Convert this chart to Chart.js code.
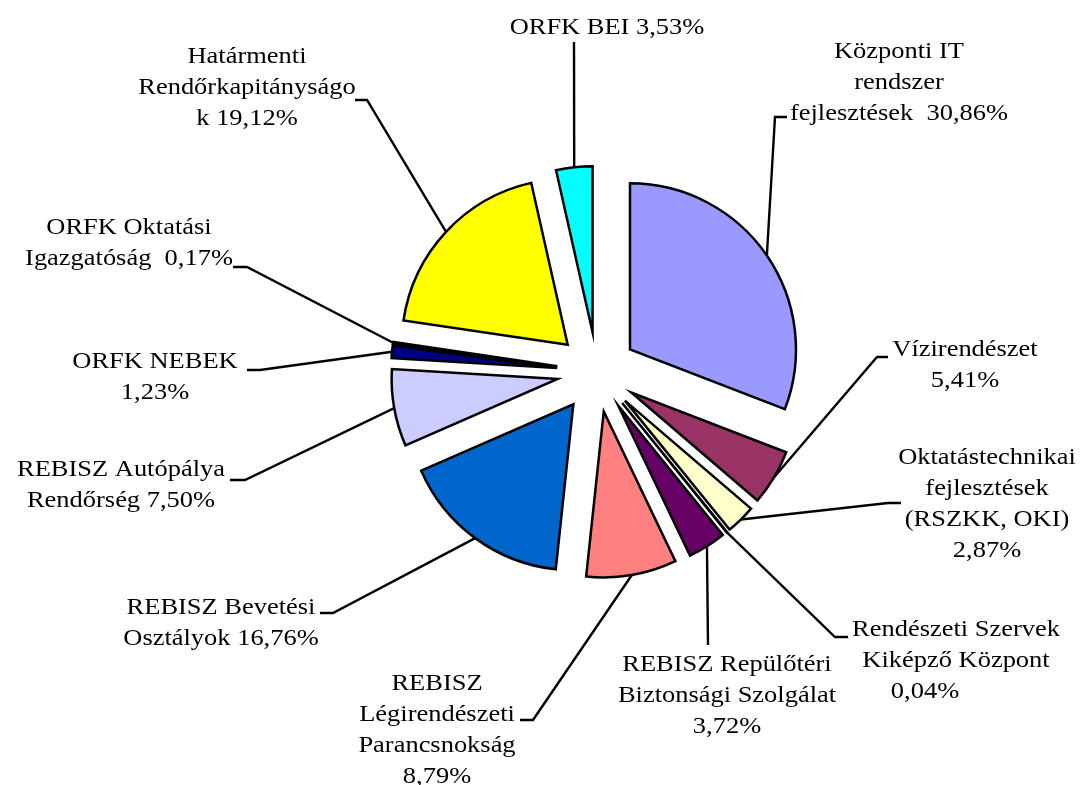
<!DOCTYPE html>
<html>
<head>
<meta charset="utf-8">
<script src="https://cdn.jsdelivr.net/npm/chart.js@4.4.1/dist/chart.umd.min.js"></script>
<style>
  html, body { margin: 0; padding: 0; background: #ffffff; }
  #wrap { width: 1084px; height: 785px; }
</style>
</head>
<body>
<div id="wrap"><canvas id="c" width="1084" height="785"></canvas></div>
<script>
// ---- data ----
const categories = [
  'Központi IT rendszer fejlesztések',
  'Vízirendészet',
  'Oktatástechnikai fejlesztések (RSZKK, OKI)',
  'Rendészeti Szervek Kiképző Központ',
  'REBISZ Repülőtéri Biztonsági Szolgálat',
  'REBISZ Légirendészeti Parancsnokság',
  'REBISZ Bevetési Osztályok',
  'REBISZ Autópálya Rendőrség',
  'ORFK NEBEK',
  'ORFK Oktatási Igazgatóság',
  'Határmenti Rendőrkapitányságok',
  'ORFK BEI'
];
const values = [30.86, 5.41, 2.87, 0.04, 3.72, 8.79, 16.76, 7.50, 1.23, 0.17, 19.12, 3.53];
// label text as wrapped in the picture ({p} = percentage)
const labelLines = [
  ['Központi IT', 'rendszer', 'fejlesztések  {p}'],
  ['Vízirendészet', '{p}'],
  ['Oktatástechnikai', 'fejlesztések', '(RSZKK, OKI)', '{p}'],
  ['Rendészeti Szervek', 'Kiképző Központ', '{p}'],
  ['REBISZ Repülőtéri', 'Biztonsági Szolgálat', '{p}'],
  ['REBISZ', 'Légirendészeti', 'Parancsnokság', '{p}'],
  ['REBISZ Bevetési', 'Osztályok {p}'],
  ['REBISZ Autópálya', 'Rendőrség {p}'],
  ['ORFK NEBEK', '{p}'],
  ['ORFK Oktatási', 'Igazgatóság  {p}'],
  ['Határmenti', 'Rendőrkapitányságo', 'k {p}'],
  ['ORFK BEI {p}']
];

// ---- styles / layout ----
const colors = ['#9999FF', '#993366', '#FFFFCC', '#CCFFFF', '#660066', '#FF8080',
                '#0066CC', '#CCCCFF', '#000080', '#FF00FF', '#FFFF00', '#00FFFF'];
const EXPLODE = 40;
const RADIUS = 166;
const FONT_PX = 23;
const TEXT_SCALE_X = 1.15;
const LINE_H = 31;
// label block: center x, first-line center y, optional per-line x shift
const labelPos = [
  {x: 899, y: 52},
  {x: 965, y: 350},
  {x: 987, y: 458},
  {x: 956, y: 630, dx: [0, 0, -31]},
  {x: 727, y: 665},
  {x: 437, y: 684},
  {x: 221, y: 608},
  {x: 121, y: 470},
  {x: 155, y: 362},
  {x: 129, y: 228},
  {x: 247, y: 57},
  {x: 607, y: 28}
];
// leader line points from the label side (slice anchor computed from the arc)
const leaderPts = [
  [[787, 117], [775, 117]],
  [[888, 357], [877, 357]],
  [[901, 503], [888, 503]],
  [[848, 637], [835, 637]],
  [[708, 645]],
  [[520, 720], [533, 720]],
  [[320, 613], [333, 613]],
  [[230, 480], [245, 480]],
  [[247, 370], [260, 370]],
  [[233, 267], [247, 267]],
  [[355, 100], [367, 100]],
  [[574, 42]]
];

function pctText(v) { return v.toFixed(2).replace('.', ',') + '%'; }

const explodePlugin = {
  id: 'explode',
  beforeDatasetsDraw(chart) {
    const ctx = chart.ctx;
    const meta = chart.getDatasetMeta(0);
    meta.data.forEach(arc => {
      const mid = (arc.startAngle + arc.endAngle) / 2;
      ctx.save();
      ctx.translate(Math.cos(mid) * EXPLODE, Math.sin(mid) * EXPLODE);
      arc.draw(ctx);
      ctx.restore();
    });
    return false;
  },
  afterDraw(chart) {
    const ctx = chart.ctx;
    const meta = chart.getDatasetMeta(0);
    // leader lines
    ctx.save();
    ctx.strokeStyle = '#000';
    ctx.lineWidth = 2.4;
    ctx.lineJoin = 'miter';
    meta.data.forEach((arc, i) => {
      const mid = (arc.startAngle + arc.endAngle) / 2;
      const ax = arc.x + Math.cos(mid) * (EXPLODE + arc.outerRadius);
      const ay = arc.y + Math.sin(mid) * (EXPLODE + arc.outerRadius);
      const pts = leaderPts[i];
      ctx.beginPath();
      ctx.moveTo(pts[0][0], pts[0][1]);
      for (let k = 1; k < pts.length; k++) ctx.lineTo(pts[k][0], pts[k][1]);
      ctx.lineTo(ax, ay);
      ctx.stroke();
    });
    ctx.restore();
    // labels
    ctx.save();
    ctx.fillStyle = '#000';
    ctx.font = FONT_PX + 'px "Liberation Serif", "Times New Roman", serif';
    ctx.textAlign = 'center';
    ctx.textBaseline = 'middle';
    labelLines.forEach((lines, i) => {
      const pos = labelPos[i];
      lines.forEach((t, k) => {
        const txt = t.replace('{p}', pctText(values[i]));
        const dx = pos.dx ? pos.dx[k] : 0;
        ctx.save();
        ctx.translate(pos.x + dx, pos.y + k * LINE_H);
        ctx.scale(TEXT_SCALE_X, 1);
        ctx.fillText(txt, 0, 0);
        ctx.restore();
      });
    });
    ctx.restore();
  }
};

new Chart(document.getElementById('c'), {
  type: 'pie',
  data: {
    labels: categories,
    datasets: [{
      data: values,
      backgroundColor: colors,
      borderColor: '#000000',
      borderWidth: 2.5,
      borderJoinStyle: 'miter',
      radius: RADIUS
    }]
  },
  options: {
    responsive: false,
    devicePixelRatio: 1,
    animation: false,
    layout: { padding: { left: 110, right: 0, top: 0, bottom: 41 } },
    plugins: {
      legend: { display: false },
      tooltip: { enabled: false }
    }
  },
  plugins: [explodePlugin]
});
</script>
</body>
</html>
